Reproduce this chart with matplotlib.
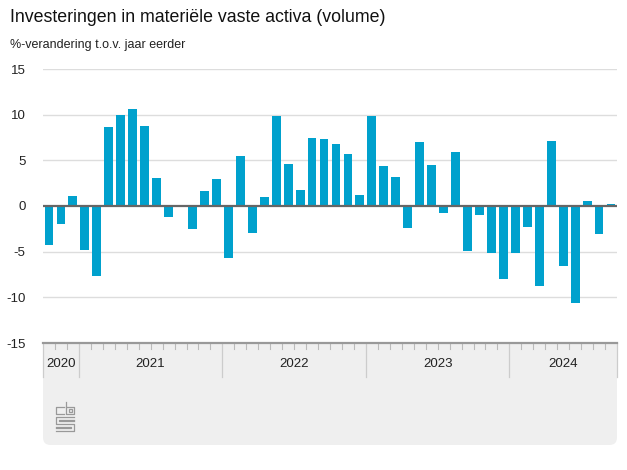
import matplotlib
matplotlib.use("Agg")
import matplotlib.pyplot as plt
from matplotlib.patches import FancyBboxPatch, Rectangle
from matplotlib.lines import Line2D

plt.rcParams['font.family'] = ['Liberation Sans', 'DejaVu Sans']

# ---- data ----
title = "Investeringen in materiële vaste activa (volume)"
subtitle = "%-verandering t.o.v. jaar eerder"
years = ["2020", "2021", "2022", "2023", "2024"]
months_per_year = [3, 12, 12, 12, 9]   # Oct 2020 .. Sep 2024
values_2020 = [-4.3, -2.0, 1.1]
values_2021 = [-4.8, -7.7, 8.7, 10.0, 10.6, 8.8, 3.1, -1.2, -0.1, -2.5, 1.6, 3.0]
values_2022 = [-5.7, 5.5, -3.0, 1.0, 9.8, 4.6, 1.7, 7.5, 7.3, 6.8, 5.7, 1.2]
values_2023 = [9.8, 4.4, 3.2, -2.4, 7.0, 4.5, -0.8, 5.9, -4.9, -1.0, -5.1, -8.0]
values_2024 = [-5.1, -2.3, -8.8, 7.1, -6.6, -10.6, 0.5, -3.1, 0.2]
yticks = [-15, -10, -5, 0, 5, 10, 15]

values = values_2020 + values_2021 + values_2022 + values_2023 + values_2024
x = list(range(len(values)))

W, H = 627, 470
fig = plt.figure(figsize=(W / 100, H / 100), dpi=100)

def fx(px):
    return px / W

def fy(py):
    return 1 - py / H

left, right, top, bottom = 43, 617, 69, 343
ax = fig.add_axes([fx(left), fy(bottom), fx(right - left), (bottom - top) / H])
ax.set_zorder(2)
ax.patch.set_alpha(0)

# bottom grey panel
panel_top, panel_bot = bottom, 445
fig.patches.append(FancyBboxPatch((fx(left), fy(panel_bot)), fx(right - left), (panel_bot - panel_top) / H,
                                  boxstyle="round,pad=0,rounding_size=0.012",
                                  transform=fig.transFigure, facecolor="#efefef", edgecolor="none", zorder=0,
                                  mutation_aspect=W / H))
fig.patches.append(Rectangle((fx(left), fy(panel_top + 20)), fx(right - left), 20 / H,
                             transform=fig.transFigure, facecolor="#efefef", edgecolor="none", zorder=0))

ax.bar(x, values, width=0.74, color="#00A1CD", zorder=3)

ax.set_xlim(-0.5, len(values) - 0.5)
ax.set_ylim(-15, 15)
ax.set_yticks(yticks)
ax.set_yticklabels([str(t) for t in yticks])
ax.tick_params(axis='y', length=0, pad=12.5, labelsize=9.5, labelcolor="#222222")
for lab in ax.get_yticklabels():
    lab.set_horizontalalignment('right')
for t in yticks:
    if t == 0:
        ax.axhline(0, color="#666666", lw=1.6, zorder=4)
    elif t != -15:
        ax.axhline(t, color="#dddddd", lw=1.0, zorder=1)
ax.axhline(-15, color="#999999", lw=1.6, zorder=5, clip_on=False)
for s in ax.spines.values():
    s.set_visible(False)
ax.set_xticks([])

# x axis: month ticks, year dividers, year labels
trans = ax.get_xaxis_transform()
axh = bottom - top
bounds = [-0.5]
for n in months_per_year:
    bounds.append(bounds[-1] + n)
for k in range(1, len(values)):
    b = k - 0.5
    if b in bounds:
        continue
    ax.add_line(Line2D([b, b], [0, -6 / axh], transform=trans, color="#bbbbbb", lw=0.8, clip_on=False))
for b in bounds:
    ax.add_line(Line2D([b, b], [0, -34 / axh], transform=trans, color="#cccccc", lw=0.9, clip_on=False))
for i, yr in enumerate(years):
    c = (bounds[i] + bounds[i + 1]) / 2
    ax.text(c, -21 / axh, yr, transform=trans, ha='center', va='center', fontsize=9.5, color="#222222")

# titles
fig.text(fx(10), fy(18), title, fontsize=12.8, color="#111111", va='center', ha='left')
fig.text(fx(10), fy(45), subtitle, fontsize=9, color="#222222", va='center', ha='left')

# cbs logo (simplified)
lc = "#999999"
def rect(x0, y0, w, h):
    fig.patches.append(Rectangle((fx(x0), fy(y0 + h)), fx(w), h / H, transform=fig.transFigure,
                                 facecolor="none", edgecolor=lc, lw=0.9, zorder=1))
def poly(pts):
    fig.lines.append(Line2D([fx(p[0]) for p in pts], [fy(p[1]) for p in pts], transform=fig.transFigure,
                            color=lc, lw=0.9, zorder=1))
poly([(64, 407), (56, 407), (56, 414), (64, 414)])
poly([(66, 402), (66, 414), (74, 414), (74, 407), (66, 407)])
rect(69, 409, 3, 3)
poly([(74, 417), (56, 417), (56, 424), (74, 424), (74, 431), (56, 431)])
poly([(74, 420), (59, 420), (59, 421), (74, 421)])
poly([(56, 427), (71, 427), (71, 428), (56, 428)])

fig.savefig("out.png", dpi=100)
